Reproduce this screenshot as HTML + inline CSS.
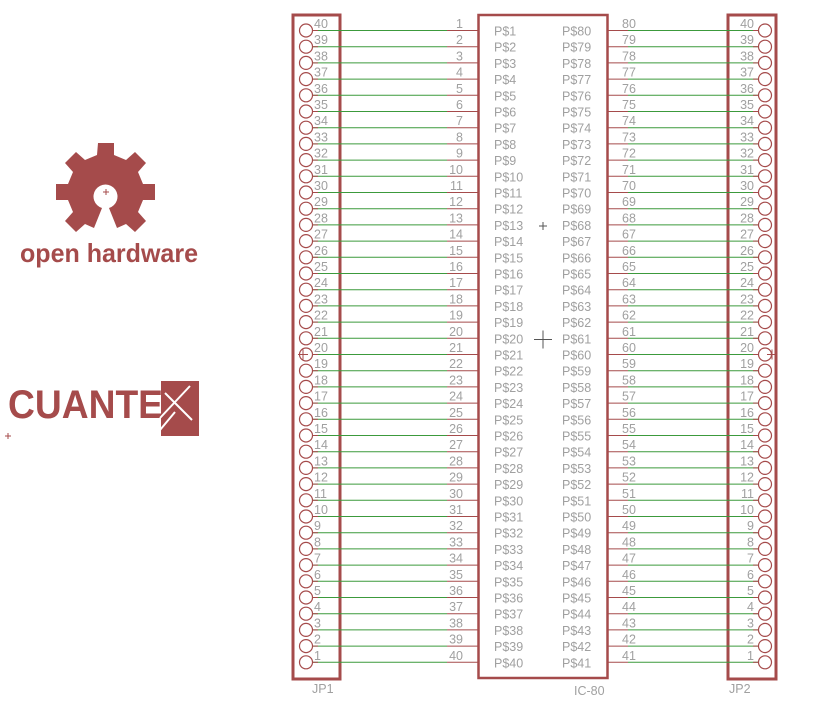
<!DOCTYPE html>
<html><head><meta charset="utf-8"><style>
html,body{margin:0;padding:0;background:#fff;}
svg{display:block;font-family:"Liberation Sans",sans-serif;}
.t{fill:#a0a0a0;font-size:12.5px;}
</style></head><body>
<svg id="sch" width="832" height="708" viewBox="0 0 832 708">
<g>
<path fill="#a54b4b" fill-rule="evenodd" d="M98,143 h16 v12 l12,5 l9,-8 l11,11 l-8,9 l5,12 h12 v16 h-12 l-5,12 l8,9 l-11,11 l-9,-8 l-9,4 l-8,-20 a12,12 0 1 0 -7,0 l-8,20 l-9,-4 l-9,8 l-11,-11 l8,-9 l-5,-12 h-12 v-16 h12 l5,-12 l-8,-9 l11,-11 l9,8 l12,-5 z"/>
<path d="M103,192h6M106,189v6" stroke="#a54b4b" stroke-width="1"/>
<text x="20" y="262" fill="#a54b4b" font-family="Liberation Sans,sans-serif" font-weight="bold" font-size="26" textLength="178" lengthAdjust="spacingAndGlyphs">open hardware</text>
</g>
<g>
<text x="8" y="418" fill="#a54b4b" font-family="Liberation Sans,sans-serif" font-weight="bold" font-size="40" textLength="155" lengthAdjust="spacingAndGlyphs">CUANTE</text>
<rect x="161" y="381" width="38" height="55" fill="#a54b4b"/>
<path d="M165,393 L192,420 M190,386 L160,418 M155,436 L175,412" stroke="#fff" stroke-width="2"/>
<path d="M5,436h6M8,433v6" stroke="#a54b4b"/>
</g>
<g id="parts"></g>
</svg>
<script>
const leftPins = Array.from({length:40},(_,i)=>i+1);
const rightPins = Array.from({length:40},(_,i)=>80-i);
const headerPins = Array.from({length:40},(_,i)=>40-i);
const NS='http://www.w3.org/2000/svg';
const g=document.getElementById('parts');
const RED='#a54b4b',GREEN='#3c9a3c';
const y0=30.5,pitch=16.2;
const yOf=i=>y0+i*pitch;
function mk(tag,attrs,parent){const e=document.createElementNS(NS,tag);for(const k in attrs)e.setAttribute(k,attrs[k]);(parent||g).appendChild(e);return e;}
function txt(x,y,s,anchor,size){const e=mk('text',{x:x,y:y,class:'t','text-anchor':anchor||'start'});if(size)e.setAttribute('font-size',size);e.textContent=s;return e;}
const b1=mk('rect',{x:293,y:15,width:47,height:664,fill:'none',stroke:RED,'stroke-width':3});


const b2=mk('rect',{x:728,y:15,width:48,height:664,fill:'none',stroke:RED,'stroke-width':3});


const ic=mk('rect',{x:478.5,y:15,width:129,height:663,fill:'none',stroke:RED,'stroke-width':2.5});


headerPins.forEach((p,i)=>{
  const y=yOf(i);
  const w1=mk('line',{x1:306,y1:y,x2:447,y2:y,stroke:GREEN,'stroke-width':1});
  
  
  mk('line',{x1:447,y1:y,x2:478,y2:y,stroke:RED,'stroke-width':1});
  mk('line',{x1:608,y1:y,x2:628,y2:y,stroke:RED,'stroke-width':1});
  const w2=mk('line',{x1:628,y1:y,x2:758,y2:y,stroke:GREEN,'stroke-width':1});
  
  
  const c1=mk('circle',{cx:306,cy:y,r:6.5,fill:'#fff',stroke:RED,'stroke-width':1.2});
  
  
  mk('line',{x1:312,y1:y,x2:318,y2:y,stroke:RED,'stroke-width':1});
  const c2=mk('circle',{cx:765,cy:y,r:6.5,fill:'#fff',stroke:RED,'stroke-width':1.2});
  
  
  mk('line',{x1:753,y1:y,x2:759,y2:y,stroke:RED,'stroke-width':1});
  txt(314,y-2.5,String(p));
  txt(754,y-2.5,String(p),'end');
  txt(463,y-2.5,String(leftPins[i]),'end');
  txt(622,y-2.5,String(rightPins[i]));
  txt(494,y+5,'P$'+leftPins[i]);
  txt(562,y+5,'P$'+rightPins[i]);
});
const yc=yOf(20);
mk('path',{d:`M298,${yc}h10M303,${yc-5}v10M767,${yc}h10M772,${yc-5}v10`,stroke:RED,'stroke-width':1,fill:'none'});
mk('path',{d:`M534,${yc-15}h18M543,${yc-24}v18M539,226h8M543,222v8`,stroke:'#555','stroke-width':1,fill:'none'});
txt(312,693,'JP1','start',15);
txt(729,693,'JP2','start',15);
txt(574,695,'IC-80','start',10);
</script>
</body></html>
